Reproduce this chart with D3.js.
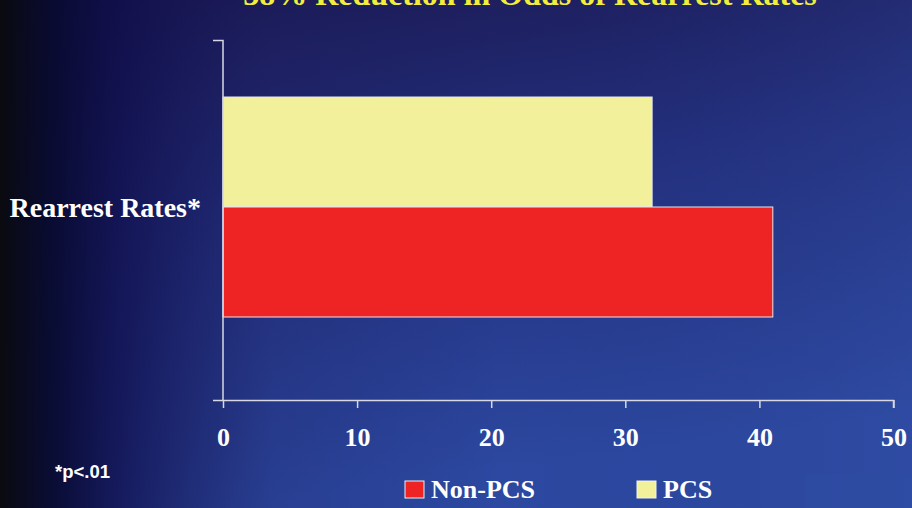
<!DOCTYPE html>
<html><head><meta charset="utf-8">
<script src="https://cdn.jsdelivr.net/npm/d3@7/dist/d3.min.js"></script>
<style>html,body{margin:0;padding:0;background:#1b1955;}svg{display:block;}</style>
</head><body>
<script>
const title = "38% Reduction in Odds of Rearrest Rates";
const categories = ["Rearrest Rates*"];
const seriesNames = ["PCS", "Non-PCS"];
const pcsValues = [32];
const nonPcsValues = [41];
const xTicks = [0, 10, 20, 30, 40, 50];
const legendOrder = ["Non-PCS", "PCS"];
const footnote = "*p<.01";

const W = 912, H = 508;
const colors = {"PCS": "#f3f09c", "Non-PCS": "#ee2323"};
const svg = d3.select("body").append("svg").attr("width", W).attr("height", H);
const defs = svg.append("defs");

const vg = defs.append("linearGradient").attr("id","vg").attr("x1",0).attr("y1",0).attr("x2",0.25).attr("y2",1);
vg.append("stop").attr("offset",0).attr("stop-color","#1b1852");
vg.append("stop").attr("offset",0.45).attr("stop-color","#23307e");
vg.append("stop").attr("offset",1).attr("stop-color","#2c48a0");
const hg = defs.append("linearGradient").attr("id","hg").attr("x1",0).attr("y1",0).attr("x2",1).attr("y2",0);
hg.append("stop").attr("offset",0).attr("stop-color","#0a0a10").attr("stop-opacity",1);
hg.append("stop").attr("offset",0.06).attr("stop-color","#080a30").attr("stop-opacity",0.95);
hg.append("stop").attr("offset",0.13).attr("stop-color","#0e0c48").attr("stop-opacity",0.75);
hg.append("stop").attr("offset",0.3).attr("stop-color","#1a1a5a").attr("stop-opacity",0.2);
hg.append("stop").attr("offset",0.55).attr("stop-color","#1a1a5a").attr("stop-opacity",0);
hg.append("stop").attr("offset",1).attr("stop-color","#3a5ab0").attr("stop-opacity",0.15);

svg.append("rect").attr("width",W).attr("height",H).attr("fill","url(#vg)");
svg.append("rect").attr("width",W).attr("height",H).attr("fill","url(#hg)");
svg.append("rect").attr("x",805).attr("y",474).attr("width",107).attr("height",34).attr("fill","#2f4ca4").attr("opacity",0.6);

const x = d3.scaleLinear().domain([0, 50]).range([223, 893.5]);
const y = d3.scaleBand().domain(categories).range([40, 400]);
const ySub = d3.scaleBand().domain(seriesNames).range([57, 277]);

// title
svg.append("text").attr("x", 530).attr("y", 4.5).attr("text-anchor","middle")
  .attr("font-family","'Liberation Serif','Times New Roman',serif").attr("font-weight","bold")
  .attr("font-size",32).attr("fill","#f2ee3a").text(title);

// bars
const data = [];
categories.forEach((c,i)=>{
  data.push({cat:c, s:"PCS", v:pcsValues[i]});
  data.push({cat:c, s:"Non-PCS", v:nonPcsValues[i]});
});
svg.append("g").selectAll("rect").data(data).join("rect")
  .attr("x", x(0))
  .attr("y", d => y(d.cat) + ySub(d.s))
  .attr("width", d => x(d.v) - x(0))
  .attr("height", ySub.bandwidth())
  .attr("fill", d => colors[d.s])
  .attr("stroke", "#e6e6ee").attr("stroke-width", 1);

// x axis
const xAxis = svg.append("g").attr("transform","translate(0,400)")
  .call(d3.axisBottom(x).tickValues(xTicks).tickSize(8).tickPadding(20).tickFormat(d3.format("d")));
xAxis.select(".domain").attr("stroke","#d8d8e4").attr("stroke-width",1.5).attr("d","M213,0.5H893.5V8");
xAxis.selectAll(".tick line").attr("stroke","#d8d8e4").attr("stroke-width",1.5);
xAxis.selectAll(".tick text").attr("fill","#ffffff")
  .attr("font-family","'Liberation Serif','Times New Roman',serif").attr("font-weight","bold").attr("font-size",26);

// y axis
const yAxis = svg.append("g").attr("transform","translate(223,0)")
  .call(d3.axisLeft(y).tickSize(0).tickPadding(22));
yAxis.select(".domain").attr("stroke","#d8d8e4").attr("stroke-width",1.5).attr("d","M-10,40.5H0V400");
yAxis.selectAll(".tick text").attr("fill","#ffffff").attr("dy","0.3em")
  .attr("transform","translate(0,-11)")
  .attr("font-family","'Liberation Serif','Times New Roman',serif").attr("font-weight","bold").attr("font-size",28);

// footnote
svg.append("text").attr("x",55).attr("y",478).attr("fill","#ffffff")
  .attr("font-family","'Liberation Sans',Arial,sans-serif").attr("font-weight","bold").attr("font-size",18)
  .attr("textLength",55).attr("lengthAdjust","spacingAndGlyphs")
  .text(footnote);

// legend
const legX = {"Non-PCS": 405, "PCS": 637};
const leg = svg.append("g").selectAll("g").data(legendOrder).join("g")
  .attr("transform", d => `translate(${legX[d]},481)`);
leg.append("rect").attr("width",19).attr("height",17).attr("fill", d => colors[d])
  .attr("stroke","#f0f0f0").attr("stroke-width",1);
leg.append("text").attr("x",26).attr("y",17).attr("fill","#ffffff")
  .attr("font-family","'Liberation Serif','Times New Roman',serif").attr("font-weight","bold").attr("font-size",26)
  .text(d => d);
</script>
</body></html>
